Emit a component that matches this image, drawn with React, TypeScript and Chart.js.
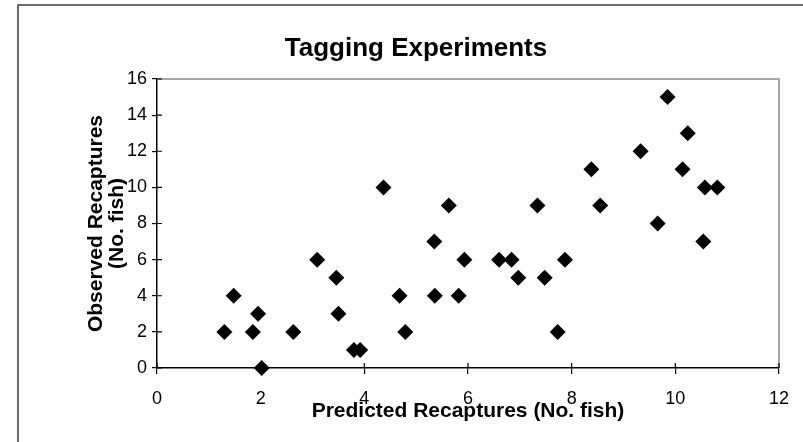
import React, { useEffect, useRef } from "react";
import { Chart, registerables } from "chart.js";

Chart.register(...registerables);

const predicted: number[] = [
  1.3, 1.48, 1.85, 1.95, 2.02, 2.63, 3.09, 3.46, 3.5, 3.8, 3.92, 4.37,
  4.68, 4.79, 5.35, 5.36, 5.63, 5.82, 5.93, 6.6, 6.84, 6.97, 7.34, 7.48,
  7.73, 7.87, 8.38, 8.55, 9.33, 9.66, 9.85, 10.14, 10.24, 10.54, 10.57, 10.81,
];
const observed: number[] = [
  2, 4, 2, 3, 0, 2, 6, 5, 3, 1, 1, 10,
  4, 2, 7, 4, 9, 4, 6, 6, 6, 5, 9, 5,
  2, 6, 11, 9, 12, 8, 15, 11, 13, 7, 10, 10,
];
const chartTitle = "Tagging Experiments";
const xTitle = "Predicted Recaptures (No. fish)";
const yTitle = ["Observed Recaptures", "(No. fish)"];
const xRange = [0, 12, 2];
const yRange = [0, 16, 2];

const FONT = "'Liberation Sans', Arial, Helvetica, sans-serif";

const framePlugin = {
  id: "frame",
  beforeDraw(chart: any) {
    const ctx = chart.ctx;
    ctx.save();
    ctx.strokeStyle = "#3a3a3a";
    ctx.lineWidth = 1.5;
    ctx.beginPath();
    ctx.moveTo(18, chart.height);
    ctx.lineTo(18, 5);
    ctx.lineTo(chart.width, 5);
    ctx.stroke();
    // title
    ctx.fillStyle = "#000";
    ctx.font = `bold 26px ${FONT}`;
    ctx.textAlign = "center";
    ctx.textBaseline = "middle";
    ctx.fillText(chartTitle, 416, 49);
    ctx.restore();
  },
  beforeDatasetsDraw(chart: any) {
    const { ctx, chartArea } = chart;
    const { left, right, top, bottom } = chartArea;
    ctx.save();
    ctx.strokeStyle = "#8a8a8a";
    ctx.lineWidth = 1.5;
    ctx.beginPath();
    ctx.moveTo(left, top);
    ctx.lineTo(right, top);
    ctx.lineTo(right, bottom);
    ctx.stroke();
    // inner halves of tick marks
    ctx.strokeStyle = "#000";
    ctx.lineWidth = 1.2;
    const xs = chart.scales.x;
    const ys = chart.scales.y;
    ctx.beginPath();
    xs.ticks.forEach((t: any) => {
      const px = xs.getPixelForValue(t.value);
      ctx.moveTo(px, bottom);
      ctx.lineTo(px, bottom - 5);
    });
    ys.ticks.forEach((t: any) => {
      const py = ys.getPixelForValue(t.value);
      ctx.moveTo(left, py);
      ctx.lineTo(left + 5, py);
    });
    ctx.stroke();
    ctx.restore();
  },
};

export default function App() {
  const ref = useRef<HTMLCanvasElement | null>(null);
  useEffect(() => {
    if (!ref.current) return;
    const chart = new Chart(ref.current, {
      type: "scatter",
      data: {
        datasets: [
          {
            label: "Recaptures",
            data: predicted.map((x, i) => ({ x, y: observed[i] })),
            pointStyle: "rectRot",
            pointRadius: 8,
            pointHoverRadius: 8,
            backgroundColor: "#000",
            borderColor: "#000",
            borderWidth: 0,
            clip: false,
          } as any,
        ],
      },
      options: {
        animation: false,
        responsive: false,
        events: [],
        layout: { padding: { top: 79, right: 23, left: 0, bottom: 0 } },
        plugins: {
          legend: { display: false },
          tooltip: { enabled: false },
          title: { display: false },
        },
        scales: {
          x: {
            type: "linear",
            min: xRange[0],
            max: xRange[1],
            ticks: {
              stepSize: xRange[2],
              color: "#000",
              padding: 14,
              font: { family: FONT, size: 18 },
              maxRotation: 0,
            },
            grid: { drawOnChartArea: false, drawTicks: true, tickLength: 6, color: "#000", lineWidth: 1.2 },
            border: { color: "#000", width: 1.5 },
            title: {
              display: true,
              text: xTitle,
              color: "#000",
              font: { family: FONT, size: 21, weight: "bold", lineHeight: 1.2 },
              padding: { top: 0, bottom: 18 },
            },
            afterFit: (scale: any) => {
              scale.height = 74;
            },
          },
          y: {
            type: "linear",
            min: yRange[0],
            max: yRange[1],
            ticks: {
              stepSize: yRange[2],
              color: "#000",
              padding: 5,
              font: { family: FONT, size: 18 },
            },
            grid: { drawOnChartArea: false, drawTicks: true, tickLength: 5, color: "#000", lineWidth: 1.2 },
            border: { color: "#000", width: 1.5 },
            title: {
              display: true,
              text: yTitle,
              color: "#000",
              font: { family: FONT, size: 21, weight: "bold", lineHeight: 1.0 },
              padding: { top: 86, bottom: 0 },
            },
            afterFit: (scale: any) => {
              scale.width = 157;
            },
          },
        },
      },
      plugins: [framePlugin],
    });
    return () => chart.destroy();
  }, []);
  return (
    <div style={{ position: "fixed", left: 0, top: 0, width: 803, height: 442, background: "#fff" }}>
      <canvas ref={ref} width={803} height={442} style={{ display: "block" }} />
    </div>
  );
}
